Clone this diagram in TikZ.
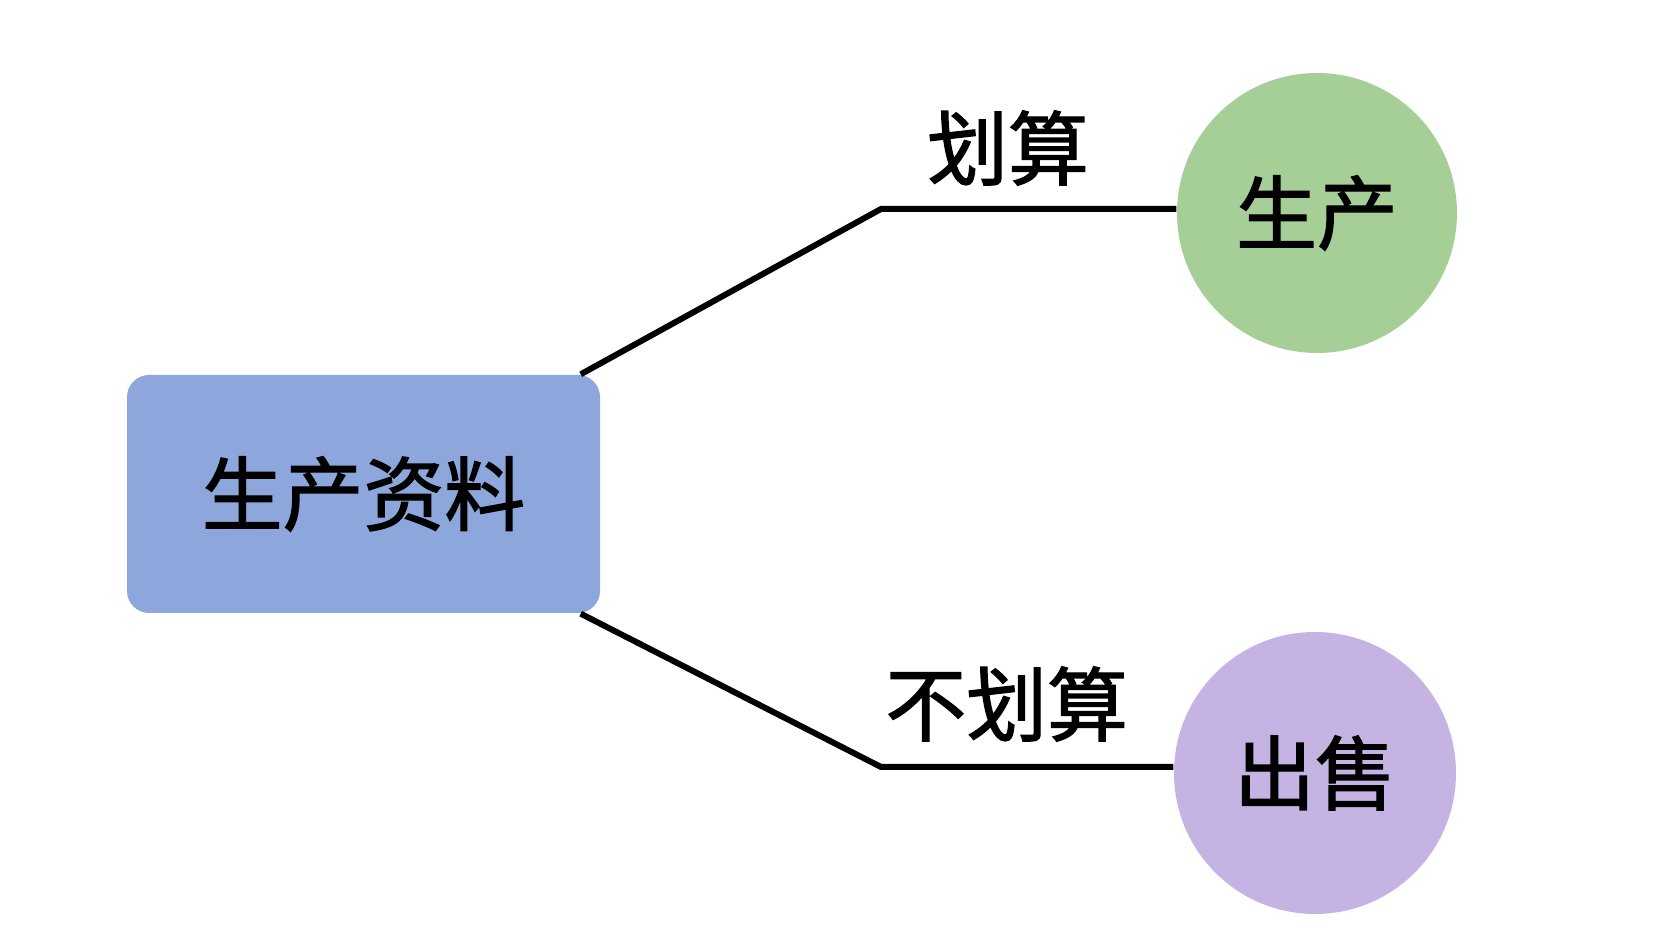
\documentclass[tikz,border=0pt]{standalone}
\usepackage{fontspec}
\newfontfamily\cjk[FakeBold=1.6]{Noto Sans CJK SC}
\usetikzlibrary{positioning}

\definecolor{boxblue}{HTML}{8DA7DD}
\definecolor{ballgreen}{HTML}{A6CF98}
\definecolor{ballpurple}{HTML}{C4B3E3}

\tikzstyle{box} = [rectangle, rounded corners=0.22cm, fill=boxblue, minimum width=4.73cm, minimum height=2.38cm, font=\cjk\fontsize{23pt}{28pt}\selectfont]
\tikzstyle{ball} = [circle, minimum size=2.8cm, inner sep=0pt, font=\cjk\fontsize{23pt}{28pt}\selectfont]
\tikzstyle{lbl} = [inner sep=0pt, font=\cjk\fontsize{23pt}{28pt}\selectfont]
\tikzstyle{wire} = [line width=1.7pt]

\begin{document}
\begin{tikzpicture}
\useasboundingbox (0,0) rectangle (16.54,9.51);
%wortel
\node[box] (means) at (3.635,4.57) {生产资料};
%begin ballen
\node[ball, fill=ballgreen] (produce) at (13.17,7.38) {生产};
\node[ball, fill=ballpurple, minimum size=2.82cm] (sell) at (13.15,1.78) {出售};
%end ballen
\coordinate (kinkup) at (8.81,7.42);
\coordinate (kinkdown) at (8.81,1.84);
%begin tak boven
\draw[wire] ([xshift=-0.2cm]means.north east) -- (kinkup)
    -- node[lbl, pos=0.43, yshift=0.61cm] (worth) {划算} (kinkup -| produce.west);
%end tak boven
%begin tak onder
\draw[wire] ([xshift=-0.2cm]means.south east) -- (kinkdown)
    -- node[lbl, pos=0.43, yshift=0.63cm] (notworth) {不划算} (kinkdown -| sell.west);
%end tak onder
\end{tikzpicture}
\end{document}
